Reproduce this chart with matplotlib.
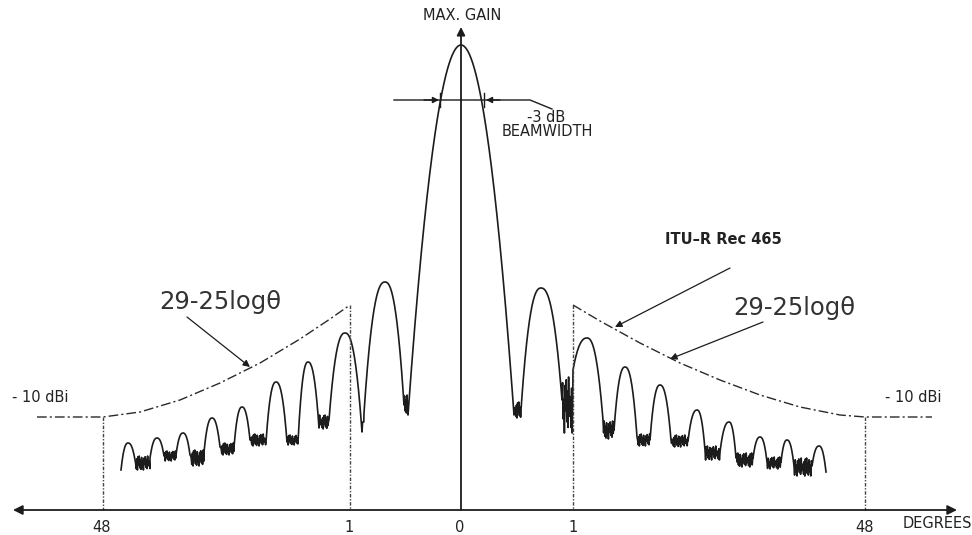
import numpy as np
import matplotlib
matplotlib.use("Agg")
import matplotlib.pyplot as plt

# ---------------- schematic data (drawing units = pixel grid of the figure) ----------------
# lobes from outer-left to outer-right (9 left sidelobes, main lobe, 9 right sidelobes)
lobe_x_left  = [121, 150, 176, 204, 234, 266, 298, 329, 364, 408, 521, 573, 614, 650, 688, 720, 753, 781, 812]
lobe_x_peak  = [128, 157, 183, 212, 242, 276, 308, 345, 385, 461, 541, 587, 625, 660, 697, 729, 760, 787, 819]
lobe_x_right = [135, 164, 190, 220, 250, 287, 319, 362, 404, 514, 562, 603, 637, 671, 705, 736, 767, 794, 826]
lobe_y_left  = [470, 458, 455, 452, 447, 442, 442, 420, 413, 415, 410, 370, 430, 440, 441, 452, 458, 462, 466]
lobe_y_peak  = [443, 438, 433, 418, 407, 382, 362, 333, 282, 45, 288, 338, 367, 385, 410, 422, 437, 440, 446]
lobe_y_right = [460, 456, 455, 447, 440, 442, 428, 432, 405, 415, 400, 420, 437, 440, 450, 458, 462, 466, 472]
# noisy floor between consecutive lobes
gap_floor = [463, 456, 458, 449, 440, 440, 422, 422, 405, 410, 405, 430, 440, 441, 453, 460, 463, 467]
gap_amp   = [7, 5, 8, 6, 6, 5, 7, 0, 10, 8, 28, 9, 6, 6, 7, 7, 6, 9]
noise_texture = [0.0, 0.8, -0.6, 1.0, -0.9, 0.3, -1.0, 0.7, -0.4, 0.9, -0.8, 0.5,
                 -0.2, 1.0, -0.7, 0.2, -0.9, 0.6, -0.5, 0.8, -1.0, 0.4, -0.3]

# 29-25log(theta) envelope samples and -10 dBi floor
env_left_x  = [37, 103, 140, 180, 220, 260, 300, 330, 350]
env_left_y  = [417, 417, 412, 400, 383, 363, 339, 319, 305]
env_right_x = [573, 600, 640, 680, 720, 760, 800, 840, 865, 932]
env_right_y = [305, 321, 343, 363, 380, 395, 407, 415, 417, 417]
guide_x   = [103, 350, 573, 865]
guide_top = [417, 305, 305, 417]

tick_x      = [102, 349, 460, 573, 865]
tick_labels = ["48", "1", "0", "1", "48"]

AXIS_Y = 510
AXIS_X = 461
MAIN_INDEX = 9
INK = "#1c1c1c"

# ---------------- figure ----------------
fig = plt.figure(figsize=(9.72, 5.35), dpi=100)
ax = fig.add_axes([0, 0, 1, 1])
ax.set_xlim(0, 972)
ax.set_ylim(535, 0)
ax.axis("off")

# build the antenna trace
xs, ys = [], []
k = 0
for i in range(len(lobe_x_peak)):
    xl, xp, xr = lobe_x_left[i], lobe_x_peak[i], lobe_x_right[i]
    yl, yp, yr = lobe_y_left[i], lobe_y_peak[i], lobe_y_right[i]
    p = 2.0 if i == MAIN_INDEX else 2.4
    n = max(20, int((xr - xl) * 3))
    u = np.linspace(1, 0, n)
    xs.extend(xp - (xp - xl) * u)
    ys.extend(yp + (yl - yp) * u ** p)
    u = np.linspace(0, 1, n)[1:]
    xs.extend(xp + (xr - xp) * u)
    ys.extend(yp + (yr - yp) * u ** p)
    if i < len(gap_floor):
        x0, x1 = xr, lobe_x_left[i + 1]
        gx = np.arange(x0 + 0.6, x1, 0.6)
        for g in gx:
            xs.append(g)
            ys.append(gap_floor[i] + gap_amp[i] * noise_texture[k % len(noise_texture)])
            k += 1
ax.plot(xs, ys, color=INK, lw=1.2, solid_joinstyle="round")

# envelope (dash-dot)
env_style = (0, (7, 2.2, 1.5, 2.2))
ax.plot(env_left_x, env_left_y, color="#2a2a2a", lw=1.0, linestyle=env_style)
ax.plot(env_right_x, env_right_y, color="#2a2a2a", lw=1.0, linestyle=env_style)

# vertical guide lines
for gxv, gt in zip(guide_x, guide_top):
    ax.plot([gxv, gxv], [gt, AXIS_Y], color="#444444", lw=1.0, linestyle=(0, (2.5, 1.2, 1, 1.2)))

# axes arrows
ax.annotate("", xy=(13, AXIS_Y), xytext=(957, AXIS_Y),
            arrowprops=dict(arrowstyle="<|-|>", color=INK, lw=1.3, mutation_scale=14,
                            shrinkA=0, shrinkB=0))
ax.annotate("", xy=(AXIS_X, 27), xytext=(AXIS_X, AXIS_Y),
            arrowprops=dict(arrowstyle="-|>", color=INK, lw=1.3, mutation_scale=12,
                            shrinkA=0, shrinkB=0))

# -3 dB beamwidth marker
ax.plot([394, 530, 552], [100, 100, 109], color=INK, lw=1.0)
ax.annotate("", xy=(439, 100), xytext=(424, 100),
            arrowprops=dict(arrowstyle="-|>", color=INK, lw=1.0, mutation_scale=9, shrinkA=0, shrinkB=0))
ax.annotate("", xy=(486, 100), xytext=(500, 100),
            arrowprops=dict(arrowstyle="-|>", color=INK, lw=1.0, mutation_scale=9, shrinkA=0, shrinkB=0))
ax.plot([440, 440], [93, 107], color=INK, lw=1.0)
ax.plot([484, 484], [93, 107], color=INK, lw=1.0)

# pointer arrows
for (x0, y0, x1, y1) in [(187, 317, 250, 367), (763, 322, 670, 359), (730, 268, 615, 327)]:
    ax.annotate("", xy=(x1, y1), xytext=(x0, y0),
                arrowprops=dict(arrowstyle="-|>", color=INK, lw=0.9, mutation_scale=10,
                                shrinkA=0, shrinkB=0))

# texts
TXT = "#222222"
ax.text(AXIS_X + 1, 15, "MAX. GAIN", ha="center", va="center", fontsize=10.5, color=TXT)
ax.text(546, 118, "-3 dB", ha="center", va="center", fontsize=10.5, color=TXT)
ax.text(547, 132, "BEAMWIDTH", ha="center", va="center", fontsize=10.5, color=TXT)
ax.text(220, 302, "29-25log\u03b8", ha="center", va="center", fontsize=17.5, color="#333333")
ax.text(794, 308, "29-25log\u03b8", ha="center", va="center", fontsize=17.5, color="#333333")
ax.text(723, 240, "ITU\u2013R Rec 465", ha="center", va="center", fontsize=10.5,
        fontweight="bold", color=TXT)
ax.text(12, 397, "- 10 dBi", ha="left", va="center", fontsize=10.5, color=TXT)
ax.text(885, 397, "- 10 dBi", ha="left", va="center", fontsize=10.5, color=TXT)
for tx, tl in zip(tick_x, tick_labels):
    ax.text(tx, 527, tl, ha="center", va="center", fontsize=10.5, color=TXT)
ax.text(903, 523, "DEGREES", ha="left", va="center", fontsize=10.5, color=TXT)

fig.savefig("out.png", dpi=100)
